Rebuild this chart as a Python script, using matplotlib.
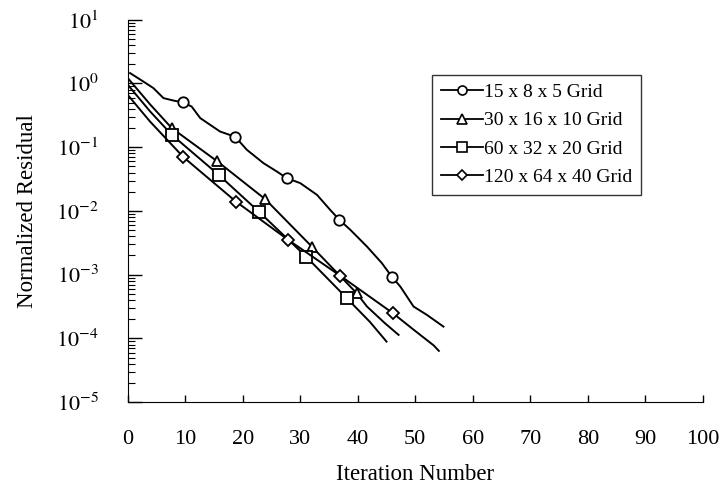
import numpy as np
import matplotlib.pyplot as plt
from matplotlib.lines import Line2D
from matplotlib.ticker import LogLocator, NullFormatter

plt.rcParams['font.family'] = ['Liberation Serif', 'DejaVu Serif']
plt.rcParams['mathtext.fontset'] = 'stix'

labels = ['15 x 8 x 5 Grid', '30 x 16 x 10 Grid', '60 x 32 x 20 Grid', '120 x 64 x 40 Grid']
markers = ['o', '^', 's', 'D']
msizes = [7.5, 7.5, 8.5, 6]

# curve points (iteration, log10 residual)
c1_x = [0.4, 2.7, 4.45, 6.2, 7.9, 9.6, 11.1, 12.6, 16.05, 18.7, 20.7, 23.6, 25.9, 27.65,
        30.0, 32.9, 35.2, 36.8, 38.7, 41.6, 44.2, 45.9, 47.4, 49.7, 52.0, 54.9]
c1_y = [0.163, 0.031, -0.072, -0.229, -0.267, -0.298, -0.361, -0.543, -0.754, -0.837, -1.04,
        -1.25, -1.38, -1.485, -1.564, -1.747, -1.983, -2.14, -2.296, -2.559, -2.82, -3.03,
        -3.187, -3.50, -3.63, -3.815]
c2_x = [0.0, 3.9, 7.65, 15.6, 23.9, 32.0, 39.8, 41.6, 44.7, 47.1]
c2_y = [0.085, -0.33, -0.70, -1.224, -1.815, -2.559, -3.29, -3.50, -3.76, -3.945]
c3_x = [0.0, 3.9, 7.65, 15.8, 22.9, 31.0, 38.1, 39.5, 42.1, 45.0]
c3_y = [-0.02, -0.44, -0.805, -1.433, -2.02, -2.716, -3.369, -3.50, -3.74, -4.05]
c4_x = [0.0, 3.9, 9.67, 18.8, 27.9, 36.9, 46.1, 49.8, 53.2, 54.1]
c4_y = [-0.18, -0.60, -1.155, -1.852, -2.454, -3.014, -3.604, -3.87, -4.11, -4.196]

# marker positions
m1_x = [9.6, 18.7, 27.65, 36.8, 45.9]
m1_y = [-0.298, -0.837, -1.485, -2.14, -3.03]
m2_x = [7.65, 15.6, 23.9, 32.0, 39.8]
m2_y = [-0.70, -1.224, -1.815, -2.559, -3.29]
m3_x = [7.65, 15.8, 22.9, 31.0, 38.1]
m3_y = [-0.805, -1.433, -2.02, -2.716, -3.369]
m4_x = [9.67, 18.8, 27.9, 36.9, 46.1]
m4_y = [-1.155, -1.852, -2.454, -3.014, -3.604]

curves = [(c1_x, c1_y), (c2_x, c2_y), (c3_x, c3_y), (c4_x, c4_y)]
marks = [(m1_x, m1_y), (m2_x, m2_y), (m3_x, m3_y), (m4_x, m4_y)]

fig = plt.figure(figsize=(7.26, 4.94), dpi=100)
ax = fig.add_axes([0.176, 0.186, 0.792, 0.774])

handles = []
for (cx, cy), (mx, my), mk, ms, lab in zip(curves, marks, markers, msizes, labels):
    ax.plot(cx, 10 ** np.array(cy), color='black', lw=1.4)
    ax.plot(mx, 10 ** np.array(my), linestyle='none', marker=mk, ms=ms,
            mfc='white', mec='black', mew=1.3)
    handles.append(Line2D([], [], color='black', lw=1.3, marker=mk, ms=ms - 1,
                          mfc='white', mec='black', mew=1.2, label=lab))

ax.set_yscale('log')
ax.set_xlim(0, 100)
ax.set_ylim(1e-5, 1e1)
ax.set_xticks(range(0, 101, 10))
ax.set_yticks([1e-5, 1e-4, 1e-3, 1e-2, 1e-1, 1e0, 1e1])
ax.set_yticklabels([r'$10^{-5}$', r'$10^{-4}$', r'$10^{-3}$', r'$10^{-2}$',
                    r'$10^{-1}$', r'$10^{0}$', r'$10^{1}$'])
ax.yaxis.set_minor_locator(LogLocator(base=10, subs=np.arange(2, 10)))
ax.yaxis.set_minor_formatter(NullFormatter())

ax.spines['top'].set_visible(False)
ax.spines['right'].set_visible(False)
ax.tick_params(axis='y', which='major', direction='in', length=10, width=1, labelsize=16, pad=21)
ax.tick_params(axis='y', which='minor', direction='in', length=5, width=0.8)
ax.tick_params(axis='x', which='major', direction='in', length=5, width=1, labelsize=16, pad=20)

ax.set_xlabel('Iteration Number', fontsize=16.5, labelpad=11)
ax.set_ylabel('Normalized Residual', fontsize=16.5, labelpad=13)

leg = ax.legend(handles=handles, loc='upper left', bbox_to_anchor=(0.529, 0.856),
                fontsize=14, handlelength=2.2, handletextpad=0.05, labelspacing=0.55,
                borderpad=0.45, borderaxespad=0, fancybox=False, frameon=True)
leg.get_frame().set_edgecolor('black')
leg.get_frame().set_linewidth(1.0)

fig.savefig('out.png', dpi=100)
